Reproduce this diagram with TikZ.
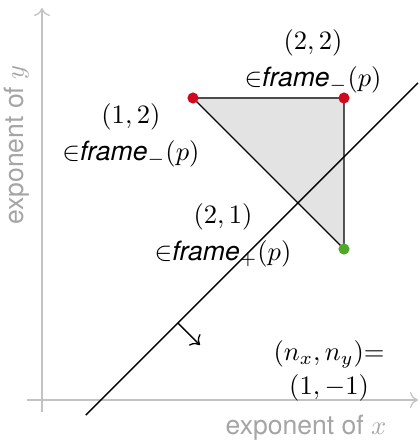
\documentclass[tikz,border=0pt]{standalone}
\usepackage{fontspec}
\newfontfamily\heros{TeX Gyre Heros}
\usetikzlibrary{arrows.meta}
\definecolor{dotred}{RGB}{208,10,30}
\definecolor{dotgreen}{RGB}{80,168,40}
\definecolor{axisgray}{RGB}{195,195,195}
\definecolor{labelgray}{RGB}{165,165,165}
\newcommand{\fr}{\mbox{\heros\itshape frame}}
\begin{document}
\begin{tikzpicture}[x=2cm,y=2cm,
  axis/.style={draw=axisgray,line width=0.5pt,-{To[length=3pt,width=6pt]}},
  axlabel/.style={text=labelgray,font=\heros},
  lab/.style={align=center,inner sep=0pt},
  dot/.style={circle,inner sep=0pt,minimum size=4.2pt}]
\useasboundingbox (-0.278,-0.278) rectangle (2.503,2.649);
% axes
\coordinate (xs) at (-0.099,0);
\coordinate (xe) at (2.49,0);
\coordinate (ys) at (0,-0.079);
\coordinate (ye) at (0,2.596);
\draw[axis] (xs) -- (xe);
\draw[axis] (ys) -- (ye);
\node[axlabel] (xl) at (1.748,-0.185) {exponent of $x$};
\node[axlabel,rotate=90] (yl) at (-0.166,1.689) {exponent of $y$};
% triangle
\coordinate (p12) at (1,2);
\coordinate (p22) at (2,2);
\coordinate (p21) at (2,1);
\fill[black!11] (p12) -- (p22) -- (p21) -- cycle;
\draw[black!70,line width=0.5pt] (p12) -- (p22);
\draw[black,line width=0.5pt] (p22) -- (p21) -- (p12);
% separating line
\coordinate (l1) at (0.29,-0.1);
\coordinate (l2) at (2.49,2.10);
\draw[black,line width=0.5pt] (l1) -- (l2);
\coordinate (na) at (0.9,0.51);
\coordinate (nb) at (1.046,0.364);
\draw[black,line width=0.5pt,-{To[length=3pt,width=6pt]}] (na) -- (nb);
% dots
\node[dot,fill=dotred] (d12) at (p12) {};
\node[dot,fill=dotred] (d22) at (p22) {};
\node[dot,fill=dotgreen] (d21) at (p21) {};
% labels
\node[lab] (t22) at (1.795,2.245) {$(2,2)$\\[2pt]$\mathord{\in}\fr_{-}(p)$};
\node[lab] (t12) at (0.589,1.755) {$(1,2)$\\[2pt]$\mathord{\in}\fr_{-}(p)$};
\node[lab] (t21) at (1.199,1.093) {$(2,1)$\\[2pt]$\mathord{\in}\fr_{+}(p)$};
\node[lab] (tn) at (1.901,0.192) {$(n_x,n_y){=}$\\[1pt]$(1,-1)$};
\end{tikzpicture}
\end{document}
